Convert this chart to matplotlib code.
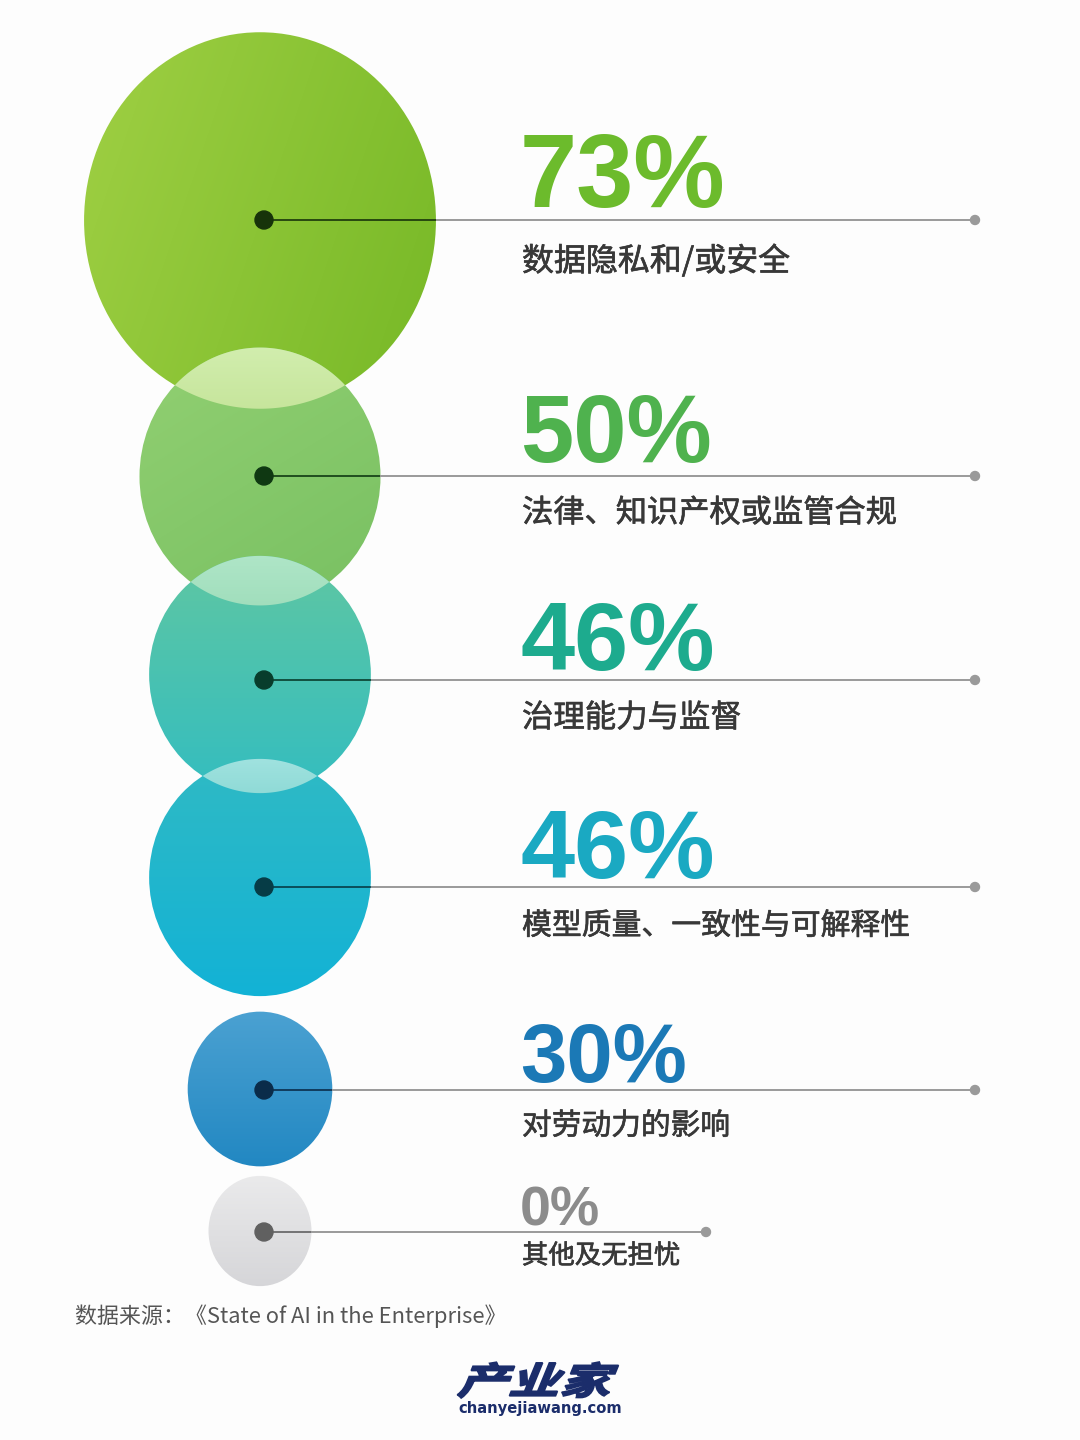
import numpy as np
import matplotlib
matplotlib.use('Agg')
import matplotlib.pyplot as plt
import matplotlib.patheffects as pe
from matplotlib.patches import Ellipse, Circle, PathPatch, Polygon
from matplotlib.textpath import TextPath
from matplotlib.font_manager import FontProperties
from matplotlib.transforms import Affine2D
from matplotlib.colors import to_rgb

plt.rcParams['font.family'] = ['Noto Sans CJK SC', 'DejaVu Sans']

# ---------------- data ----------------
categories = ['数据隐私和/或安全', '法律、知识产权或监管合规', '治理能力与监督',
              '模型质量、一致性与可解释性', '对劳动力的影响', '其他及无担忧']
values = [73, 50, 46, 46, 30, 0]
value_labels = [f'{v}%' for v in values]
source_text = '数据来源：《State of AI in the Enterprise》'
logo_text = '产业家'
logo_url = 'chanyejiawang.com'

# ---------------- layout / style ----------------
row_y = [220, 476, 680, 887, 1090, 1232]          # dot + leader line
circle_cy = [220.5, 476.5, 674.5, 877.5, 1089, 1231]
circle_cx = 260
dot_x = 264
r_per_pct = 2.41
r_min = 51.5
y_stretch = 1.07
line_end = [975, 975, 975, 975, 975, 706]
pct_base = [207, 462, 670, 878, 1082, 1225]
pct_size = [74, 69, 70, 70, 60, 40]
label_y = [261, 513, 718, 926, 1126, 1256]
label_size = [23, 22.5, 22.6, 21.5, 21.4, 19]
text_x = 520

c_start = ['#a0d044', '#92d072', '#60c7a2', '#30bac4', '#4ca2d2', '#ebebec']
c_end = ['#76b826', '#78c062', '#33bdc0', '#12b2d6', '#2187c2', '#d5d5d8']
grad_angle = [20, 60, 90, 90, 90, 90]
lens_top = ['#d2eeaf', '#b0e6c8', '#a2e3e0']
lens_bot = ['#c6e59b', '#a0debc', '#8edad6']
pct_colors = ['#6cbb2c', '#4fb24e', '#1dab8e', '#1aa9c2', '#1b79b6', '#8c8c8c']
dot_colors = ['#17330a', '#0f3812', '#083d2c', '#063c46', '#0a2c4a', '#606060']
label_color = '#383838'
bg = '#fdfdfd'

fig = plt.figure(figsize=(10.8, 14.4), dpi=100, facecolor=bg)
ax = fig.add_axes([0, 0, 1, 1])
ax.set_xlim(0, 1080)
ax.set_ylim(1440, 0)
ax.axis('off')
ax.set_facecolor(bg)


def grad_img(c1, c2, ang, n=200):
    yy, xx = np.mgrid[0:1:n * 1j, 0:1:n * 1j]
    a = np.deg2rad(ang)
    dx, dy = np.cos(a), np.sin(a)
    t = (xx - 0.5) * dx + (yy - 0.5) * dy
    t = (t - t.min()) / (t.max() - t.min())
    c1 = np.array(to_rgb(c1))
    c2 = np.array(to_rgb(c2))
    return c1 + (c2 - c1) * t[..., None]


pad = 4
ells = []
th = np.linspace(0, 2 * np.pi, 1440)
for i, v in enumerate(values):
    r = max(v * r_per_pct, r_min)
    ry = r * y_stretch
    cy = circle_cy[i]
    ell = Ellipse((circle_cx, cy), 2 * r, 2 * ry, facecolor='none', edgecolor='none')
    ax.add_patch(ell)
    im = ax.imshow(grad_img(c_start[i], c_end[i], grad_angle[i]),
                   extent=[circle_cx - r - pad, circle_cx + r + pad, cy + ry + pad, cy - ry - pad],
                   origin='upper', zorder=2 + i * 0.1, interpolation='bilinear')
    im.set_clip_path(ell)
    ells.append((r, ry, cy))

    # light lens where this circle overlaps the previous one
    if 0 < i <= len(lens_top):
        pr, pry, pcy = ells[i - 1]
        ex = circle_cx + r * np.cos(th)
        ey = cy + ry * np.sin(th)
        keep = ((ex - circle_cx) / pr) ** 2 + ((ey - pcy) / pry) ** 2 <= 1
        ex2 = circle_cx + pr * np.cos(th)
        ey2 = pcy + pry * np.sin(th)
        keep2 = ((ex2 - circle_cx) / r) ** 2 + ((ey2 - cy) / ry) ** 2 <= 1
        if keep.sum() > 2 and keep2.sum() > 2:
            pts1 = np.column_stack([ex[keep], ey[keep]])
            pts2 = np.column_stack([ex2[keep2], ey2[keep2]])
            pts1 = pts1[np.argsort(pts1[:, 0])]
            pts2 = pts2[np.argsort(-pts2[:, 0])]
            lens_poly = Polygon(np.vstack([pts1, pts2]), closed=True,
                                facecolor='none', edgecolor='none')
            ax.add_patch(lens_poly)
            y0 = cy - ry - pad
            y1 = pcy + pry + pad
            lim = ax.imshow(grad_img(lens_top[i - 1], lens_bot[i - 1], 90, n=60),
                            extent=[circle_cx - r - pad, circle_cx + r + pad, y1, y0],
                            origin='upper', zorder=2 + i * 0.1 + 0.05, interpolation='bilinear')
            lim.set_clip_path(lens_poly)

ax.set_xlim(0, 1080)
ax.set_ylim(1440, 0)

for i, v in enumerate(values):
    r, ry, cy = ells[i]
    y = row_y[i]
    edge = circle_cx + r * np.sqrt(max(0.0, 1 - ((y - cy) / ry) ** 2))
    ax.plot([dot_x, edge], [y, y], color=dot_colors[i], lw=1.4, alpha=0.85,
            zorder=5, solid_capstyle='butt')
    ax.plot([edge, line_end[i]], [y, y], color='#9a9a9a', lw=1.4, zorder=5,
            solid_capstyle='butt')
    ax.add_patch(Circle((dot_x, y), 9, color=dot_colors[i], zorder=6))
    ax.add_patch(Circle((line_end[i], y), 4.5, color='#9a9a9a', zorder=6))

    ax.text(text_x, pct_base[i], value_labels[i], family=['Liberation Sans', 'DejaVu Sans'],
            fontweight='bold', fontsize=pct_size[i], color=pct_colors[i],
            ha='left', va='baseline', zorder=7)
    ax.text(text_x + 2, label_y[i], categories[i], fontsize=label_size[i],
            fontweight='normal', color=label_color, ha='left', va='center', zorder=7,
            path_effects=[pe.withStroke(linewidth=0.45, foreground=label_color)])

ax.text(75, 1316, source_text, fontsize=15.8, color='#555555', ha='left', va='center')

# logo
fp = FontProperties(family='Noto Sans CJK SC', weight='bold')
tp = TextPath((0, 0), logo_text, size=1, prop=fp)
bb = tp.get_extents()
logo_x0, logo_x1, logo_top, logo_bot = 456, 622, 1362, 1398
w_target = logo_x1 - logo_x0
h_target = logo_bot - logo_top
skew = 0.3
tr = (Affine2D().translate(-bb.x0, -bb.y0)
      .skew(np.arctan(skew), 0)
      .scale(w_target / (bb.width + skew * bb.height), -h_target / bb.height)
      .translate(logo_x0, logo_bot))
logo = PathPatch(tr.transform_path(tp), facecolor='#1b2d6b', edgecolor='#1b2d6b',
                 lw=1.2, zorder=7)
ax.add_patch(logo)
ax.text(540, 1408, logo_url, family=['DejaVu Sans'], fontweight='bold',
        fontsize=10.6, color='#1b2d6b', ha='center', va='center')

fig.savefig('out.png', dpi=100, facecolor=bg)
